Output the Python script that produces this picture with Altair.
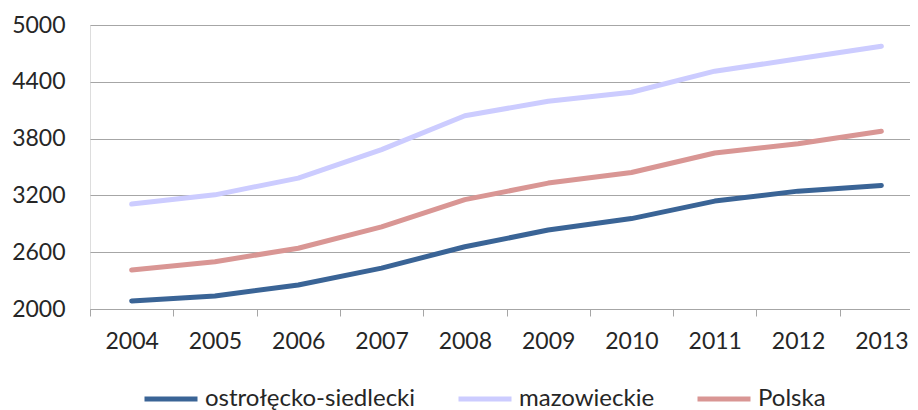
import altair as alt
import pandas as pd

years = ["2004", "2005", "2006", "2007", "2008", "2009", "2010", "2011", "2012", "2013"]
series_names = ["ostrołęcko-siedlecki", "mazowieckie", "Polska"]
ostroleckosiedlecki = [2085, 2137, 2254, 2432, 2658, 2834, 2955, 3140, 3245, 3305]
mazowieckie = [3108, 3206, 3383, 3683, 4042, 4194, 4290, 4512, 4643, 4776]
polska = [2413, 2500, 2642, 2868, 3155, 3330, 3442, 3648, 3746, 3877]
colors = ["#3A6496", "#CCCCFF", "#D99694"]
y_ticks = [2000, 2600, 3200, 3800, 4400, 5000]

rows = []
for name, vals in zip(series_names, [ostroleckosiedlecki, mazowieckie, polska]):
    for yr, v in zip(years, vals):
        rows.append({"rok": yr, "wartosc": v, "seria": name})
df = pd.DataFrame(rows)

FONT = "Lato"
TXT = "#262626"
GRID = "#A6A6A6"

chart = alt.Chart(df).mark_line(strokeWidth=5, strokeCap="round", strokeJoin="round").encode(
    x=alt.X("rok:N", title=None, sort=years,
            scale=alt.Scale(range=[0, 833]),
            axis=alt.Axis(labelAngle=0, tickBand="extent", ticks=True, tickSize=7,
                          tickColor=GRID, domainColor=GRID, domainWidth=1.2,
                          labelPadding=14, labelFont=FONT, labelFontSize=23,
                          labelColor=TXT, grid=False)),
    y=alt.Y("wartosc:Q", title=None,
            scale=alt.Scale(domain=[2000, 5000], nice=False, zero=False),
            axis=alt.Axis(values=y_ticks, format="d", domain=False, ticks=False, grid=True,
                          gridColor=GRID, gridWidth=1.2, labelPadding=25,
                          labelFont=FONT, labelFontSize=23, labelColor=TXT)),
    color=alt.Color("seria:N", sort=series_names,
                    scale=alt.Scale(domain=series_names, range=colors),
                    legend=alt.Legend(title=None, orient="none", direction="horizontal",
                                      legendX=52, legendY=345, symbolType="stroke",
                                      symbolSize=2809, symbolStrokeWidth=5,
                                      labelFont=FONT, labelFontSize=24, labelColor=TXT,
                                      labelLimit=0, labelOffset=5, columnPadding=32,
                                      padding=0)),
).properties(
    width=820, height=284,
    autosize=alt.AutoSizeParams(type="none"),
    padding={"left": 82, "top": 17, "right": 0, "bottom": 115},
).configure_view(stroke=None).configure(background="white")

chart.save("out.html", embed_options={"renderer": "svg", "actions": False})
